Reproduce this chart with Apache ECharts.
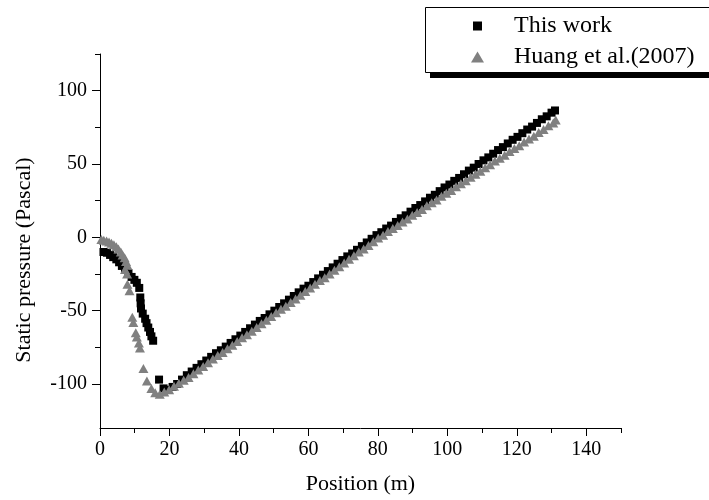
<!DOCTYPE html>
<html>
<head>
<meta charset="utf-8">
<script src="https://cdn.jsdelivr.net/npm/echarts@6/dist/echarts.min.js"></script>
<style>
  html, body { margin: 0; padding: 0; background: #fff; }
  #chart { width: 709px; height: 500px; }
</style>
</head>
<body>
<div id="chart"></div>
<script>
// Static pressure along the position (m), two data sets
const workX = [1.0, 2.0, 2.9, 3.8, 4.7, 5.5, 6.3, 7.2, 8.2, 9.1, 9.9, 10.6, 11.3, 11.6, 11.7, 11.8, 12.3, 13.0, 13.4, 13.9, 14.4, 14.8, 15.3,
  17.0, 18.3, 19.6, 20.9, 22.2, 23.6, 25.0,
  26.4, 27.8, 29.2, 30.6, 32.0, 33.4, 34.8, 36.2, 37.6, 39.0, 40.4, 41.8, 43.2, 44.6, 46.0,
  47.4, 48.8, 50.2, 51.6, 53.0, 54.4, 55.8, 57.2, 58.6, 60.0, 61.4, 62.8, 64.2, 65.6, 67.0, 68.4, 69.8, 71.2, 72.6, 74.0,
  75.4, 76.8, 78.2, 79.6, 81.0, 82.4, 83.8, 85.2, 86.6, 88.0, 89.4, 90.8, 92.2, 93.6, 95.0, 96.4, 97.8, 99.2, 100.6, 102.0,
  103.4, 104.8, 106.2, 107.6, 109.0, 110.4, 111.8, 113.2, 114.6, 116.0, 117.4, 118.8, 120.2, 121.6, 123.0, 124.4, 125.8, 127.2, 128.6, 130.0, 131.0];
const workY = [-10, -10.5, -12, -13.5, -15, -17, -19.5, -22, -24.5, -27, -29, -31, -34.5, -41, -45, -48.5, -52, -55.5, -58.5, -61.5, -64.5, -67.5, -70.5,
  -97, -103, -104, -102, -100, -97, -94,
  -91.5, -89, -86.5, -84, -81.5, -79, -77, -74.5, -72, -69.5, -67, -64.5, -62, -59.5, -57,
  -55, -52.5, -50, -47.5, -45, -42.5, -40, -37.5, -35, -33, -30.5, -28, -25.5, -23, -20.5, -18, -15.5, -13, -11, -8.5,
  -6, -3.5, -1, 1.5, 3.5, 6, 8, 10.5, 13, 15, 17.5, 20, 22, 24.5, 27, 29, 31.5, 34, 36, 38.5,
  40.5, 43, 45.5, 47.5, 50, 52.5, 54.5, 57, 59.5, 61.5, 64, 66.5, 68.5, 71, 73.5, 75.5, 78, 80.5, 82.5, 85, 86.5];

const huangX = [0.4, 1.1, 1.9, 2.6, 3.3, 4.0, 4.7, 5.3, 6.0, 6.5, 7.1, 7.5, 7.9, 7.2, 7.8,
  7.9, 8.5, 9.3, 9.6, 10.3, 10.6, 11.2, 11.5, 12.5, 13.5, 14.8, 15.9, 17.2,
  18.5, 19.9, 21.3, 22.7, 24.1, 25.5, 26.9, 28.3, 29.7, 31.1, 32.5, 33.9, 35.3, 36.7, 38.1, 39.5, 40.9, 42.3, 43.7, 45.1,
  46.5, 47.9, 49.3, 50.7, 52.1, 53.5, 54.9, 56.3, 57.7, 59.1, 60.5, 61.9, 63.3, 64.7, 66.1, 67.5, 68.9, 70.3, 71.7, 73.1,
  74.5, 75.9, 77.3, 78.7, 80.1, 81.5, 82.9, 84.3, 85.7, 87.1, 88.5, 89.9, 91.3, 92.7, 94.1, 95.5, 96.9, 98.3, 99.7, 101.1,
  102.5, 103.9, 105.3, 106.7, 108.1, 109.5, 110.9, 112.3, 113.7, 115.1, 116.5, 117.9, 119.3, 120.7, 122.1, 123.5, 124.9, 126.3, 127.7, 129.1, 130.5, 131.2];
const huangY = [-1.5, -2, -2.5, -3.2, -4, -5, -6.5, -8, -10, -12, -14, -16.5, -19, -22, -25,
  -32, -36.5, -54.5, -58, -65, -68, -72, -75.5, -89.5, -98, -103, -106, -107,
  -105.5, -104, -101.5, -99.5, -97.5, -95.5, -93, -90.5, -88, -85.5, -83, -80.5, -78.5, -76, -73.5, -71, -68.5, -66.5, -64, -61.5,
  -59, -56.5, -54, -51.5, -49, -47, -44.5, -42, -39.5, -37, -34.5, -32, -29.5, -27.5, -25, -22.5, -20, -17.5, -15, -12.5,
  -10, -8, -5.5, -3, -0.5, 1.5, 4, 6, 8, 10.5, 12.5, 15, 17, 19, 21.5, 23.5, 25.5, 28, 30, 32,
  34.5, 36.5, 38.5, 41, 43, 45, 47.5, 49.5, 52, 54, 56, 58.5, 60.5, 62.5, 65, 67, 69, 71.5, 73.5, 76, 78, 80];

// Tick positions
const xMajorTicks = [0, 20, 40, 60, 80, 100, 120, 140];
const xMinorTicks = [10, 30, 50, 70, 90, 110, 130, 150];
const yMajorTicks = [-100, -50, 0, 50, 100];
const yMinorTicks = [-75, -25, 25, 75, 125];

const seriesNames = ['This work', 'Huang et al.(2007)'];

const FONT = '"Liberation Serif", "Times New Roman", serif';
const pairs = (xs, ys) => xs.map((x, i) => [x, ys[i]]);

const chart = echarts.init(document.getElementById('chart'), null, { renderer: 'canvas' });

const axisLineStyle = { color: '#000', width: 1 };

chart.setOption({
  backgroundColor: '#fff',
  animation: false,
  grid: { left: 100, top: 54, width: 521, height: 374, containLabel: false },
  graphic: [
    // legend frame with its offset drop shadow
    { type: 'rect', z: 3, shape: { x: 430, y: 13, width: 300, height: 65 }, style: { fill: '#000' } },
    { type: 'rect', z: 3, shape: { x: 425.5, y: 7.5, width: 300, height: 65 }, style: { fill: '#fff', stroke: '#000', lineWidth: 1 } }
  ],
  legend: [
    {
      data: [seriesNames[0]], left: 473, top: 13, padding: 0, z: 5,
      selectedMode: false, itemWidth: 9, itemHeight: 9,
      textStyle: { fontFamily: FONT, fontSize: 24, color: '#000', lineHeight: 26, padding: [0, 0, 0, 27] }
    },
    {
      data: [seriesNames[1]], left: 471, top: 44, padding: 0, z: 5,
      selectedMode: false, itemWidth: 13, itemHeight: 11,
      textStyle: { fontFamily: FONT, fontSize: 24, color: '#000', lineHeight: 26, padding: [0, 0, 0, 25] }
    }
  ],
  xAxis: [
    {
      type: 'value', min: 0, max: 150,
      name: 'Position (m)', nameLocation: 'middle', nameGap: 45,
      nameTextStyle: { fontFamily: FONT, fontSize: 22, color: '#000' },
      axisLine: { onZero: false, lineStyle: axisLineStyle },
      axisTick: { show: true, inside: false, length: 8, customValues: xMajorTicks, lineStyle: axisLineStyle },
      axisLabel: { customValues: xMajorTicks, fontFamily: FONT, fontSize: 20, color: '#000', margin: 12 },
      splitLine: { show: false }
    },
    {
      type: 'value', min: 0, max: 150, position: 'bottom',
      axisLine: { show: false, onZero: false },
      axisTick: { show: true, inside: false, length: 5, customValues: xMinorTicks, lineStyle: axisLineStyle },
      axisLabel: { show: false },
      splitLine: { show: false }
    }
  ],
  yAxis: [
    {
      type: 'value', min: -130, max: 125,
      name: 'Static pressure (Pascal)', nameLocation: 'middle', nameGap: 65,
      nameTextStyle: { fontFamily: FONT, fontSize: 22, color: '#000', padding: [0, 38, 0, 0] },
      axisLine: { onZero: false, lineStyle: axisLineStyle },
      axisTick: { show: true, inside: false, length: 8, customValues: yMajorTicks, lineStyle: axisLineStyle },
      axisLabel: { customValues: yMajorTicks, fontFamily: FONT, fontSize: 20, color: '#000', margin: 13 },
      splitLine: { show: false }
    },
    {
      type: 'value', min: -130, max: 125, position: 'left',
      axisLine: { show: false, onZero: false },
      axisTick: { show: true, inside: false, length: 5, customValues: yMinorTicks, lineStyle: axisLineStyle },
      axisLabel: { show: false },
      splitLine: { show: false }
    }
  ],
  series: [
    {
      name: seriesNames[0], type: 'scatter', xAxisIndex: 0, yAxisIndex: 0,
      symbol: 'rect', symbolSize: 8,
      itemStyle: { color: '#000', opacity: 1 },
      data: pairs(workX, workY), z: 2
    },
    {
      name: seriesNames[1], type: 'scatter', xAxisIndex: 0, yAxisIndex: 0,
      symbol: 'triangle', symbolSize: [10, 9],
      itemStyle: { color: '#808080', opacity: 1 },
      data: pairs(huangX, huangY), z: 3
    }
  ]
});
</script>
</body>
</html>
